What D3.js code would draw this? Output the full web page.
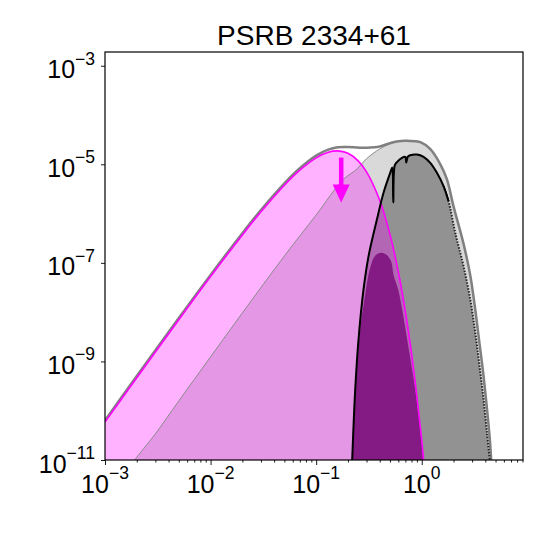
<!DOCTYPE html>
<html><head><meta charset="utf-8">
<script src="https://cdn.jsdelivr.net/npm/d3@7"></script>
<style>html,body{margin:0;padding:0;background:#fff;} svg{display:block;font-family:"Liberation Sans",Arial,Helvetica,sans-serif;}</style>
</head><body>
<svg id="chart" width="548" height="548"></svg>
<script>
// ---------- data ----------
const titleText = "PSRB 2334+61";
const xTicksMajor = [1e-3, 1e-2, 1e-1, 1];
const xTickExponents = ["\u22123", "\u22122", "\u22121", "0"];
const yTicksMajor = [1e-11, 1e-9, 1e-7, 1e-5, 1e-3];
const yTickExponents = ["\u221211", "\u22129", "\u22127", "\u22125", "\u22123"];
const xDomain = [1e-3, 9.1];
const yDomain = [1e-11, 1.9e-3];

// magenta (cool) component
const magentaX = [0.001,0.002,0.005,0.01,0.02,0.03,0.05,0.07,0.1,0.13,0.16,0.2,0.25,0.3,0.4,0.5,0.6,0.7,0.8,0.9,1.0,1.1];
const magentaY = [5.9e-11,4.66e-10,7.02e-9,5.27e-8,3.69e-7,1.087e-6,3.77e-6,7.61e-6,1.353e-5,1.752e-5,1.87e-5,1.671e-5,1.173e-5,7.03e-6,1.857e-6,3.79e-7,6.58e-8,1.02e-8,1.46e-9,1.95e-10,2.49e-11,3.0e-12];

// light grey (hot) component
const greyX = [0.0019,0.003,0.005,0.01,0.02,0.05,0.1,0.18,0.24,0.3,0.4,0.5,0.6,0.73,0.97,1.2,1.5,1.73,2.0,2.47,2.88,3.2,3.5,3.83,4.13,4.41,4.55];
const greyY = [1e-11,3.4e-11,1.58e-10,1.24e-9,9.65e-9,1.38e-7,9.4e-7,4.9e-6,7.8e-6,1.3e-5,2.05e-5,2.62e-5,2.93e-5,2.98e-5,2.82e-5,2.05e-5,1.0e-5,5.0e-6,1.4e-6,2.6e-7,5.6e-8,1.2e-8,2.6e-9,5.6e-10,1.2e-10,2.7e-11,1e-11];

// total model
const totalX = [0.001,0.002,0.005,0.01,0.02,0.03,0.05,0.07,0.1,0.13,0.16,0.2,0.25,0.3,0.4,0.5,0.6,0.73,0.97,1.2,1.5,1.73,2.0,2.47,2.88,3.2,3.5,3.83,4.13,4.41,4.55];
const totalY = [6.4e-11,5.05e-10,7.6e-9,5.7e-8,4.0e-7,1.18e-6,4.1e-6,8.3e-6,1.5e-5,1.98e-5,2.22e-5,2.25e-5,2.18e-5,2.17e-5,2.3e-5,2.68e-5,2.95e-5,2.99e-5,2.82e-5,2.05e-5,1.0e-5,5.0e-6,1.4e-6,2.6e-7,5.6e-8,1.2e-8,2.6e-9,5.6e-10,1.2e-10,2.7e-11,1e-11];

// dark grey absorbed model
const modelX = [0.2194,0.2343,0.2518,0.2807,0.3132,0.3761,0.4345,0.5028,0.582,0.649,0.778,0.9006,1.040,1.204,1.393,1.609,1.795,2.077,2.490,2.883,3.215,3.531,3.853,4.150,4.413];
const modelY = [1e-11,2.65e-10,2.75e-9,2.85e-8,1.355e-7,7.55e-7,2.64e-6,6.71e-6,1.104e-5,1.355e-5,1.53e-5,1.58e-5,1.42e-5,1.07e-5,6.71e-6,3.59e-6,1.78e-6,4.06e-7,8.49e-8,1.79e-8,3.76e-9,7.87e-10,1.66e-10,3.49e-11,1e-11];

// black data line
const dataX = [0.2194,0.2343,0.2518,0.2807,0.3132,0.3761,0.4345,0.5028,0.525,0.537,0.555,0.582,0.649,0.698,0.713,0.737,0.778,0.9006,1.040,1.204,1.393,1.609,1.795];
const dataY = [1e-11,2.65e-10,2.75e-9,2.85e-8,1.355e-7,7.55e-7,2.64e-6,6.71e-6,8.6e-6,1.67e-6,9.5e-6,1.104e-5,1.355e-5,1.41e-5,1.09e-5,1.42e-5,1.53e-5,1.58e-5,1.42e-5,1.07e-5,6.71e-6,3.59e-6,1.78e-6];

// dark purple component
const purpleX = [0.2181,0.2367,0.2612,0.2913,0.3249,0.3623,0.4131,0.4608,0.514,0.540,0.5988,0.6533,0.7288,0.868,0.968,1.033];
const purpleY = [1e-11,2.65e-10,4.39e-9,2.26e-8,7.98e-8,1.40e-7,1.61e-7,1.47e-7,1.06e-7,5.75e-8,2.85e-8,1.12e-8,2.75e-9,2.65e-10,4.07e-11,1e-11];

// upper-limit arrow
const arrowX = 0.1726;
const arrowTop = 1.37e-5;
const arrowTip = 1.67e-6;

// ---------- drawing ----------
const svg = d3.select("#chart");
const X0 = 105, X1 = 523, Y0 = 52, Y1 = 460;
const x = d3.scaleLog().domain(xDomain).range([X0, X1]);
const y = d3.scaleLog().domain(yDomain).range([Y1, Y0]);
const zip = (a, b) => a.map((v, i) => [v, b[i]]);
const yc = v => y(Math.max(v, 1e-13));
const curve = d3.curveCatmullRom.alpha(0.5);

svg.append("defs").append("clipPath").attr("id", "clip")
  .append("rect").attr("x", X0).attr("y", Y0).attr("width", X1 - X0).attr("height", Y1 - Y0);

const plot = svg.append("g").attr("clip-path", "url(#clip)");
const area = d3.area().x(d => x(d[0])).y0(y(yDomain[0]) + 2).y1(d => yc(d[1])).curve(curve);
const line = d3.line().x(d => x(d[0])).y(d => yc(d[1])).curve(curve);

const G = zip(greyX, greyY), M = zip(magentaX, magentaY), T = zip(totalX, totalY);
const D = zip(modelX, modelY), B = zip(dataX, dataY), P = zip(purpleX, purpleY);

plot.append("path").attr("d", area(G)).attr("fill", "#d9d9d9");
plot.append("path").attr("d", area(D)).attr("fill", "#929292");
plot.append("path").attr("d", area(M)).attr("fill", "#ff00ff").attr("fill-opacity", 0.3);
plot.append("path").attr("d", area(P)).attr("fill", "#841a84");

plot.append("path").attr("d", line(G)).attr("fill", "none").attr("stroke", "#8a8a8a").attr("stroke-width", 1);
plot.append("path").attr("d", line(T)).attr("fill", "none").attr("stroke", "#808080").attr("stroke-width", 2.5);
plot.append("path").attr("d", line(M)).attr("fill", "none").attr("stroke", "#ff00ff").attr("stroke-width", 1.6);
plot.append("path").attr("d", line(D.filter(d => d[0] >= 1.6))).attr("fill", "none")
  .attr("stroke", "#222").attr("stroke-width", 2).attr("stroke-dasharray", "1.5,1.5");
plot.append("path").attr("d", line(D.filter(d => d[0] <= 0.32))).attr("fill", "none")
  .attr("stroke", "#222").attr("stroke-width", 1).attr("stroke-dasharray", "1,1.5");
plot.append("path").attr("d", line(B)).attr("fill", "none").attr("stroke", "#000").attr("stroke-width", 2)
  .attr("stroke-linejoin", "round");

// arrow
const ax = x(arrowX), ayTop = y(arrowTop), ayTip = y(arrowTip);
const headH = 18, headW = 8.5;
plot.append("line").attr("x1", ax).attr("x2", ax).attr("y1", ayTop).attr("y2", ayTip - headH + 1)
  .attr("stroke", "#ff00ff").attr("stroke-width", 4.5);
plot.append("path").attr("d", `M${ax - headW},${ayTip - headH}L${ax + headW},${ayTip - headH}L${ax},${ayTip}Z`)
  .attr("fill", "#ff00ff");

// frame
svg.append("rect").attr("x", X0).attr("y", Y0).attr("width", X1 - X0).attr("height", Y1 - Y0)
  .attr("fill", "none").attr("stroke", "#000").attr("stroke-width", 1.2);

// x axis
const gx = svg.append("g").attr("transform", `translate(0,${Y1})`);
gx.call(d3.axisBottom(x).tickValues(xTicksMajor).tickSize(5).tickFormat(""));
const minor = x.ticks().filter(v => !xTicksMajor.some(m => Math.abs(m - v) / m < 1e-6));
const gxm = svg.append("g").attr("transform", `translate(0,${Y1})`);
gxm.call(d3.axisBottom(x).tickValues(minor).tickSize(2.5).tickFormat(""));
[gx, gxm].forEach(g => { g.select(".domain").remove(); g.selectAll("line").attr("stroke", "#000").attr("stroke-width", 0.9); });

xTicksMajor.forEach((v, i) => {
  const t = svg.append("text").attr("x", x(v)).attr("y", Y1 + 33).attr("text-anchor", "middle")
    .attr("font-size", 25).attr("fill", "#000");
  t.append("tspan").text("10");
  t.append("tspan").attr("dy", -14).attr("font-size", 17.5).text(xTickExponents[i]);
});

// y axis
const gy = svg.append("g").attr("transform", `translate(${X0},0)`);
gy.call(d3.axisLeft(y).tickValues(yTicksMajor).tickSize(4).tickFormat(""));
gy.select(".domain").remove();
gy.selectAll("line").attr("stroke", "#000").attr("stroke-width", 0.9);
yTicksMajor.forEach((v, i) => {
  const t = svg.append("text").attr("x", 95).attr("y", y(v) + 12.5).attr("text-anchor", "end")
    .attr("font-size", 25).attr("fill", "#000");
  t.append("tspan").text("10");
  t.append("tspan").attr("dy", -13.5).attr("font-size", 17.5).text(yTickExponents[i]);
});

// title
svg.append("text").attr("x", (X0 + X1) / 2).attr("y", 45).attr("text-anchor", "middle")
  .attr("font-size", 28).attr("fill", "#000").text(titleText);
</script>
</body></html>
